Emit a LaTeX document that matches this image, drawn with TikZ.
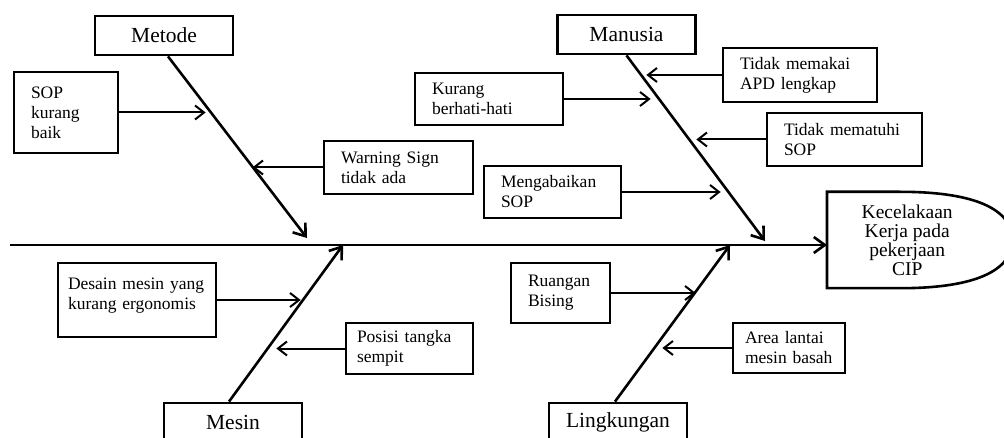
\documentclass[tikz,border=0pt]{standalone}
\usepackage{fontspec}
\setmainfont{Liberation Serif}
\usetikzlibrary{arrows.meta,calc}

\begin{document}
\begin{tikzpicture}[
  x=1pt, y=-1pt,
  >={Straight Barb[length=9pt,width=14pt]},
  spine/.style    ={line width=2.6pt,->,>={Straight Barb[length=11pt,width=16pt]}},
  bone/.style     ={line width=2.6pt,->,>={Straight Barb[length=11pt,width=16pt]}},
  twig/.style     ={line width=2pt,->},
  headbox/.style  ={draw,line width=2.8pt,minimum width=138pt,minimum height=39pt,
                    font={\fontsize{21.5}{24}\selectfont}},
  causebox/.style ={draw,line width=1.3pt,align=left,inner xsep=17pt,inner ysep=0pt,
                    font={\fontsize{17.5}{20}\selectfont}},
  effectbox/.style={align=center,minimum width=160pt,minimum height=96pt,inner sep=0pt,
                    font={\fontsize{19.5}{19}\selectfont}},
]
\useasboundingbox (0,0) rectangle (1004,438);

%% ============================================================
%%  Head (effect) and spine
%% ============================================================
\node[effectbox,anchor=west] (effect) at (827,240)
      {Kecelakaan\\Kerja pada\\pekerjaan\\CIP};
\draw[line width=2.6pt] (effect.south west) -- (effect.north west)
      -- ($(effect.north west)+(73,0)$)
      .. controls +(85,0) and +(0,-26) .. ($(effect.east)+(25,0)$)
      .. controls +(0,26) and +(85,0) .. ($(effect.south west)+(73,0)$)
      -- cycle;

\coordinate (tail) at (10,245);
\draw[spine] (tail) -- (tail -| effect.west);

%% ============================================================
%%  Main categories
%% ============================================================
\node[headbox] (metode)     at (164,35.5)  {Metode};
\node[headbox] (manusia)    at (626.5,34.5) {Manusia};
\node[headbox] (mesin)      at (233,422.5) {Mesin};
\node[headbox] (lingkungan) at (618,422.5) {Lingkungan};

\coordinate (tipMet) at (307,238);
\coordinate (tipMan) at (765,241);
\coordinate (tipMes) at (343,245);
\coordinate (tipLin) at (730,245);

\draw[bone] ([xshift=4pt]metode.south)      -- (tipMet);
\draw[bone] (manusia.south)                 -- (tipMan);
\draw[bone] ([xshift=-4pt]mesin.north)      -- (tipMes);
\draw[bone] ([xshift=-3pt]lingkungan.north) -- (tipLin);

%% ============================================================
%%  Metode
%% ============================================================
\node[causebox,text width=70pt,minimum height=81pt] (sopBaik) at (66,112.5)
      {SOP\\kurang\\baik};
\node[causebox,text width=115pt,minimum height=53pt] (warning) at (398.5,167.5)
      {Warning Sign\\tidak ada};
\draw[twig] (sopBaik.east) -- ++(87,0);
\draw[twig] (warning.west) -- ++(-71,0);

%% ============================================================
%%  Manusia
%% ============================================================
\node[causebox,text width=114pt,minimum height=52pt] (kurang) at (489,99)
      {Kurang\\berhati-hati};
\node[causebox,text width=120pt,minimum height=54pt] (apd) at (800,75)
      {Tidak memakai\\APD lengkap};
\node[causebox,text width=121pt,minimum height=53pt] (patuh) at (844.5,139.5)
      {Tidak mematuhi\\SOP};
\node[causebox,text width=103pt,minimum height=52pt] (abai) at (552.5,192)
      {Mengabaikan\\SOP};
\draw[twig] (kurang.east) -- ++(87,0);
\draw[twig] (apd.west)    -- ++(-76,0);
\draw[twig] (patuh.west)  -- ++(-70,0);
\draw[twig] (abai.east)   -- ++(99,0);

%% ============================================================
%%  Mesin
%% ============================================================
\node[causebox,inner xsep=10pt,text width=138pt,minimum height=74pt] (desain) at (137,300)
      {Desain mesin yang\\kurang ergonomis\\[-8pt]~};
\node[causebox,inner xsep=11pt,text width=105pt,minimum height=51pt] (posisi) at (409.5,348.5)
      {Posisi tangka\\sempit};
\draw[twig] (desain.east) -- ++(84,0);
\draw[twig] (posisi.west) -- ++(-69,0);

%% ============================================================
%%  Lingkungan
%% ============================================================
\node[causebox,text width=65pt,minimum height=60pt] (bising) at (560.5,293)
      {Ruangan\\Bising};
\node[causebox,inner xsep=12pt,text width=88pt,minimum height=50pt] (lantai) at (789,348)
      {Area lantai\\mesin basah};
\draw[twig] (bising.east) -- ++(85,0);
\draw[twig] (lantai.west) -- ++(-70,0);

\end{tikzpicture}
\end{document}
